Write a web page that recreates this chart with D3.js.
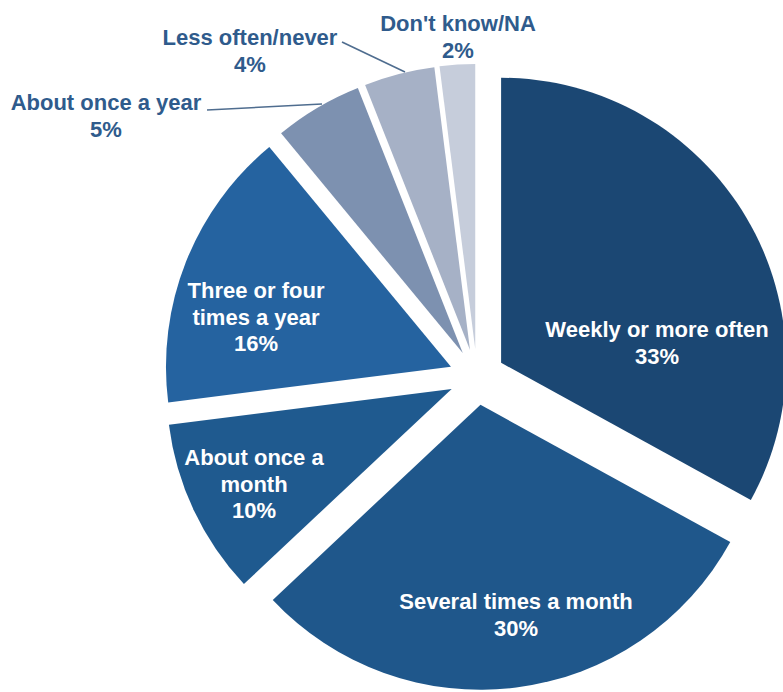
<!DOCTYPE html>
<html>
<head>
<meta charset="utf-8">
<script src="https://cdn.jsdelivr.net/npm/d3@7"></script>
<style>
  html, body { margin: 0; padding: 0; background: #ffffff; }
  svg { display: block; }
  text { font-family: "Liberation Sans", Arial, Helvetica, sans-serif; font-weight: bold; }
</style>
</head>
<body>
<div id="chart"></div>
<script>
// Survey answer shares, clockwise from 12 o'clock
const categories = [
  "Weekly or more often",
  "Several times a month",
  "About once a month",
  "Three or four times a year",
  "About once a year",
  "Less often/never",
  "Don't know/NA"
];
const values = [33, 30, 10, 16, 5, 4, 2];
const labelLines = [
  ["Weekly or more often"],
  ["Several times a month"],
  ["About once a", "month"],
  ["Three or four", "times a year"],
  ["About once a year"],
  ["Less often/never"],
  ["Don't know/NA"]
];

// Styling and layout
const width = 783, height = 692;
const cx = 477, cy = 377;          // pie centre
const radius = 285;
const explode = 28;                // distance each slice is pulled out
const fontSize = 22;
const lineHeight = 26.5;
const sliceColors = ["#1b4773", "#1f578b", "#1f5a8f", "#2563a0", "#7d91b0", "#a6b1c6", "#c6cddb"];
const insideColor = "#ffffff";
const outsideColor = "#2f5b8c";
const leaderColor = "#4f6d8f";
// label anchors (centre x, first baseline) relative to the pie centre, and whether they sit inside
const labelLayout = [
  { dx: 180, dy: -40, inside: true },
  { dx: 39, dy: 232, inside: true },
  { dx: -223, dy: 88, inside: true },
  { dx: -221, dy: -79, inside: true },
  { dx: -371, dy: -267, inside: false },
  { dx: -227, dy: -332, inside: false },
  { dx: -19, dy: -346, inside: false }
];
// leader lines: from the label text end to the slice, relative to the pie centre
const leaders = [
  { index: 4, x1: -270, y1: -267, x2: -155, y2: -273 },
  { index: 5, x1: -135, y1: -335, x2: -72, y2: -305 }
];

const svg = d3.select("#chart").append("svg")
  .attr("width", width)
  .attr("height", height);

const g = svg.append("g").attr("transform", `translate(${cx},${cy})`);

const pie = d3.pie().sort(null).value(d => d).startAngle(0).endAngle(2 * Math.PI);
const arcs = pie(values);
const arc = d3.arc().innerRadius(0).outerRadius(radius);

g.selectAll("path.slice")
  .data(arcs)
  .join("path")
  .attr("class", "slice")
  .attr("fill", (d, i) => sliceColors[i])
  .attr("transform", d => {
    const mid = (d.startAngle + d.endAngle) / 2;
    return `translate(${explode * Math.sin(mid)},${-explode * Math.cos(mid)})`;
  })
  .attr("d", arc);

// leader lines
g.selectAll("line.leader")
  .data(leaders)
  .join("line")
  .attr("class", "leader")
  .attr("x1", d => d.x1).attr("y1", d => d.y1)
  .attr("x2", d => d.x2).attr("y2", d => d.y2)
  .attr("stroke", leaderColor)
  .attr("stroke-width", 1.6);

// labels: category lines followed by the percentage
const labels = g.selectAll("text.label")
  .data(arcs)
  .join("text")
  .attr("class", "label")
  .attr("text-anchor", "middle")
  .attr("font-size", fontSize)
  .attr("fill", (d, i) => labelLayout[i].inside ? insideColor : outsideColor)
  .attr("transform", (d, i) => `translate(${labelLayout[i].dx},${labelLayout[i].dy})`);

labels.each(function(d, i) {
  const lines = labelLines[i].concat([d.data + "%"]);
  d3.select(this).selectAll("tspan")
    .data(lines)
    .join("tspan")
    .attr("x", 0)
    .attr("dy", (t, j) => j === 0 ? 0 : lineHeight)
    .text(t => t);
});
</script>
</body>
</html>
